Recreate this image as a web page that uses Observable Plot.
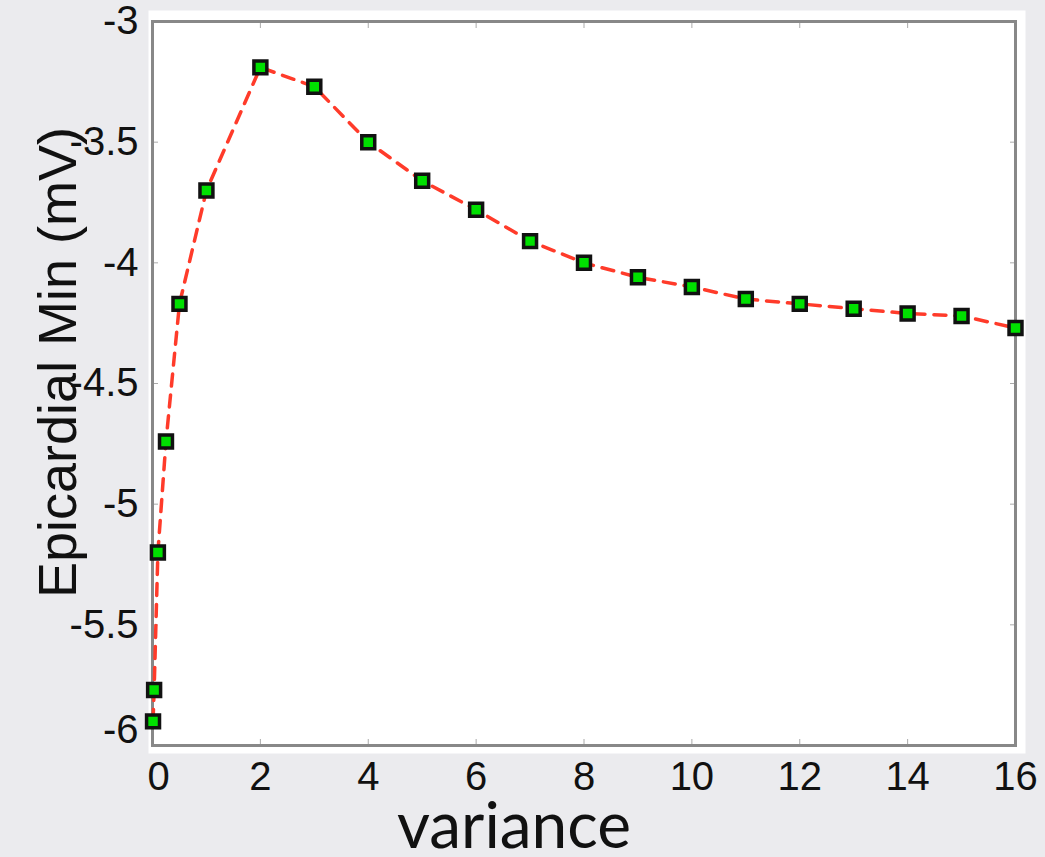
<!DOCTYPE html>
<html>
<head>
<meta charset="utf-8">
<script src="https://cdn.jsdelivr.net/npm/d3@7"></script>
<script src="https://cdn.jsdelivr.net/npm/@observablehq/plot@0.6"></script>
<style>
  html, body { margin: 0; padding: 0; background: #ebebee; }
  #chart svg { display: block; }
</style>
</head>
<body>
<div id="chart"></div>
<script>
const variance = [0.01, 0.03, 0.1, 0.25, 0.5, 1, 2, 3, 4, 5, 6, 7, 8, 9, 10, 11, 12, 13, 14, 15, 16];
const epicardialMin = [-5.90, -5.77, -5.20, -4.74, -4.17, -3.70, -3.19, -3.27, -3.50, -3.66, -3.78, -3.91, -4.00, -4.06, -4.10, -4.15, -4.17, -4.19, -4.21, -4.22, -4.27];
const xTicks = [0, 2, 4, 6, 8, 10, 12, 14, 16];
const yTicks = [-6, -5.5, -5, -4.5, -4, -3.5, -3];
const xLabel = "variance";
const yLabel = "Epicardial Min (mV)";

const data = variance.map((v, i) => ({x: v, y: epicardialMin[i]}));
const fmt = d => String(d);

const chart = Plot.plot({
  width: 1045,
  height: 857,
  marginLeft: 152,
  marginRight: 30,
  marginTop: 21,
  marginBottom: 112,
  style: {background: "#ebebee", fontFamily: "'Liberation Sans', Arial, sans-serif"},
  x: {domain: [0, 16], label: null},
  y: {domain: [-6, -3], label: null},
  marks: [
    Plot.frame({fill: "white", stroke: null, insetLeft: -4, insetTop: -11, insetRight: -10, insetBottom: -8}),
    Plot.axisX({ticks: xTicks.filter(d => d !== 0), tickSize: 0, tickPadding: 16, fontSize: 40, tickFormat: fmt, label: null, fill: "#111"}),
    Plot.axisX({ticks: [0], tickSize: 0, tickPadding: 16, dx: 6, fontSize: 40, tickFormat: fmt, label: null, fill: "#111"}),
    Plot.axisY({ticks: yTicks.filter(d => d !== -6), tickSize: 0, tickPadding: 14, fontSize: 40, tickFormat: fmt, label: null, fill: "#111"}),
    Plot.axisY({ticks: [-6], tickSize: 0, tickPadding: 14, dy: -15, fontSize: 40, tickFormat: fmt, label: null, fill: "#111"}),
    Plot.axisX({ticks: xTicks, anchor: "bottom", tickSize: -6, text: null, label: null, stroke: "#aaa"}),
    Plot.axisX({ticks: xTicks, anchor: "top", tickSize: -6, text: null, label: null, stroke: "#aaa"}),
    Plot.axisY({ticks: yTicks, anchor: "left", tickSize: -6, text: null, label: null, stroke: "#aaa"}),
    Plot.axisY({ticks: yTicks, anchor: "right", tickSize: -6, text: null, label: null, stroke: "#aaa"}),
    Plot.frame({stroke: "#888", strokeWidth: 3}),
    Plot.line(data, {x: "x", y: "y", stroke: "#ff3b2a", strokeWidth: 3.5, strokeDasharray: "12,9"}),
    Plot.dot(data, {x: "x", y: "y", symbol: "square", r: 7.3, fill: "#00e000", stroke: "#111", strokeWidth: 3.5}),
    Plot.text([yLabel], {frameAnchor: "left", text: d => d, rotate: -90, textAnchor: "middle", lineAnchor: "middle", dx: -94, dy: -21, fontSize: 54, fill: "#111", fontFamily: "'Liberation Sans', Arial, sans-serif"}),
    Plot.text([xLabel], {frameAnchor: "bottom", text: d => d, dx: -70, dy: 102, fontSize: 64, fill: "#111", fontFamily: "Lato, 'Open Sans', sans-serif"})
  ]
});
document.getElementById("chart").appendChild(chart);
</script>
</body>
</html>
